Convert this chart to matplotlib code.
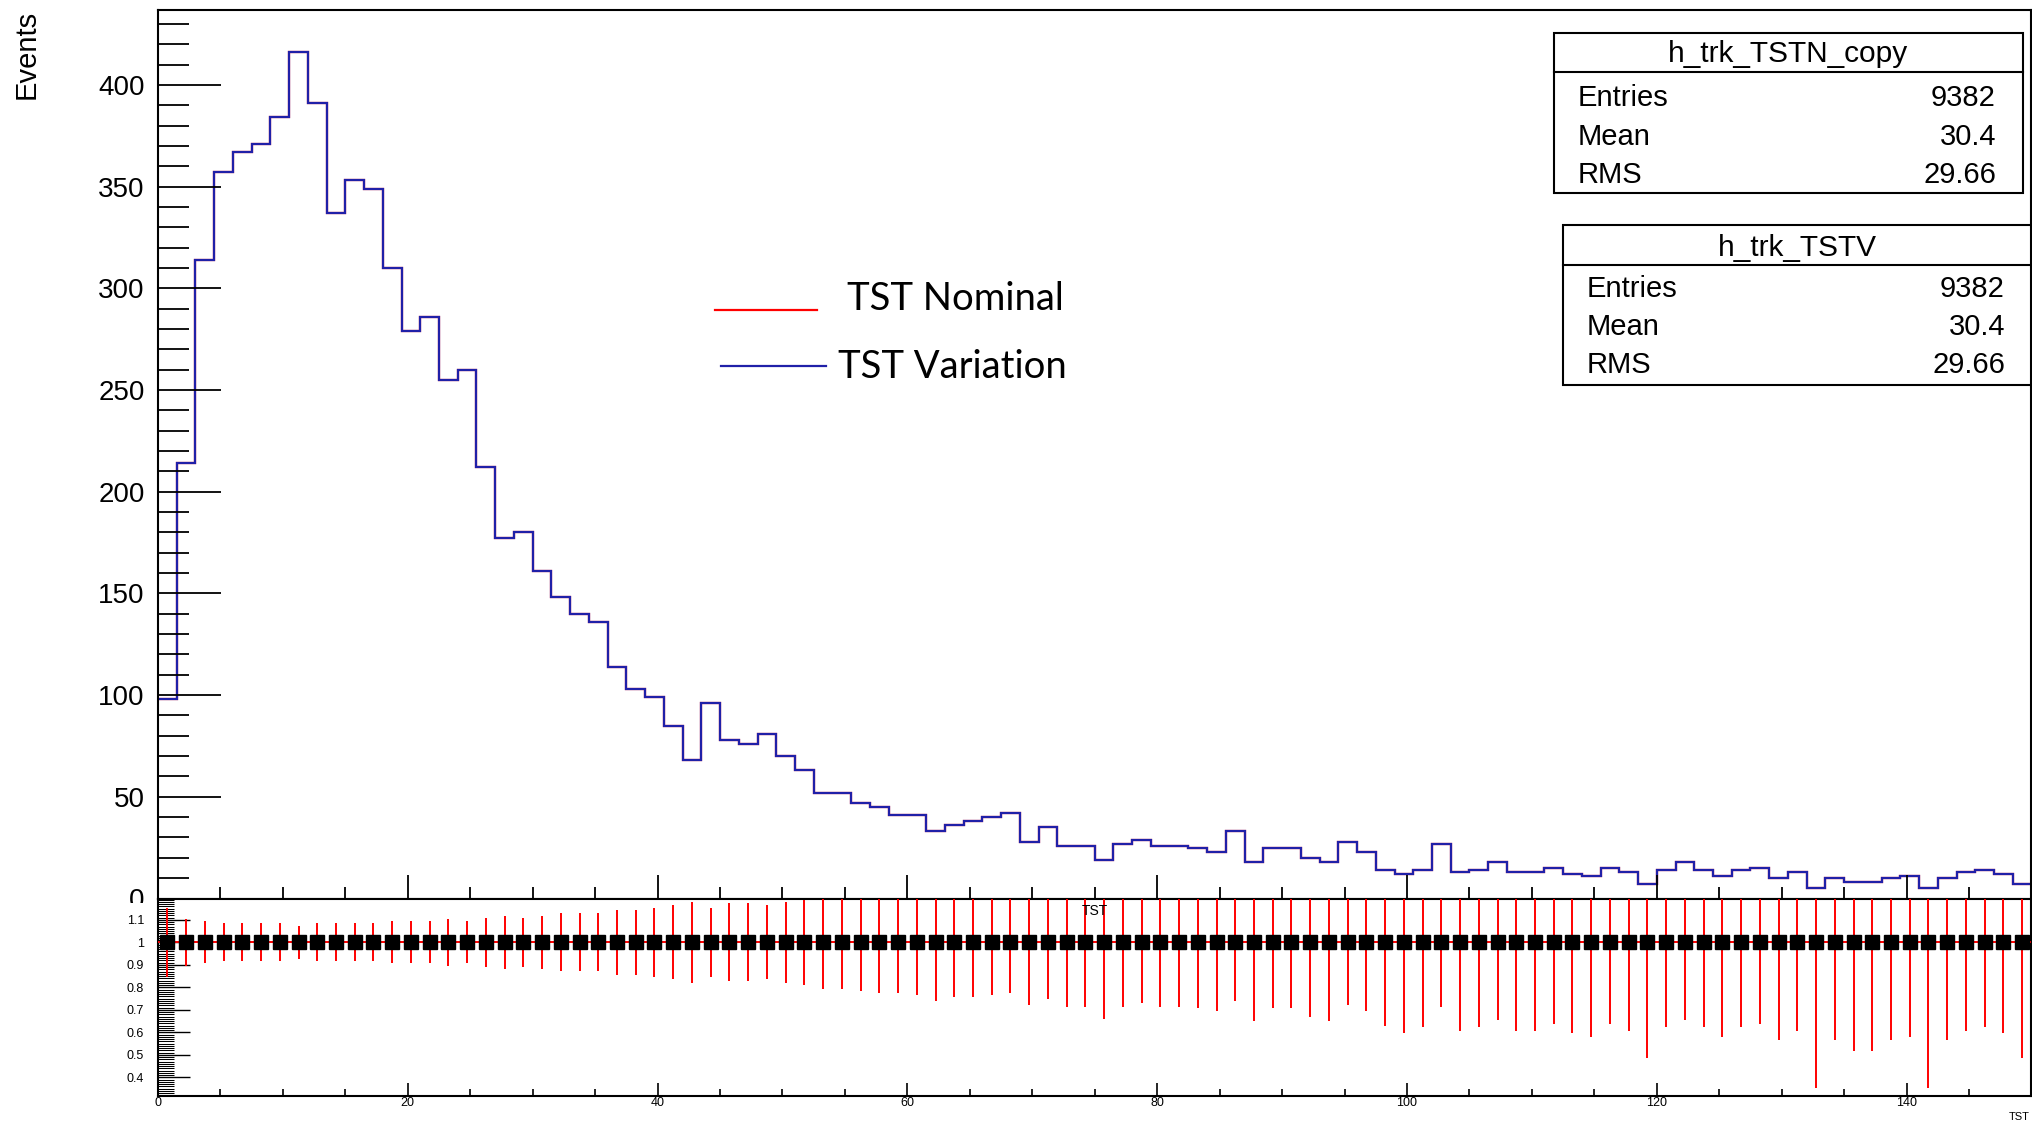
"""TST nominal vs. variation histogram with a ratio panel underneath."""

import matplotlib

matplotlib.use("Agg")
import matplotlib.pyplot as plt
import numpy as np
from matplotlib.lines import Line2D
from matplotlib.patches import Rectangle
from matplotlib.ticker import FuncFormatter, MultipleLocator

W, H = 2033, 1128
X_MIN, X_MAX, N_BINS = 0.0, 150.0, 100

# bin contents of h_trk_TSTV (read bin by bin off the picture)
variation_counts = [
    98, 214, 314, 357, 367, 371, 384, 416, 391, 337,
    353, 349, 310, 279, 286, 255, 260, 212, 177, 180,
    161, 148, 140, 136, 114, 103, 99, 85, 68, 96,
    78, 76, 81, 70, 63, 52, 52, 47, 45, 41,
    41, 33, 36, 38, 40, 42, 28, 35, 26, 26,
    19, 27, 29, 26, 26, 25, 23, 33, 18, 25,
    25, 20, 18, 28, 23, 14, 12, 14, 27, 13,
    14, 18, 13, 13, 15, 12, 11, 15, 13, 7,
    14, 18, 14, 11, 14, 15, 10, 13, 5, 10,
    8, 8, 10, 11, 5, 10, 13, 14, 12, 7,
]
# the nominal histogram sits exactly under the variation one
nominal_counts = list(variation_counts)

# half-length of the red error bars in the ratio panel
ratio_err = [
    0.152, 0.103, 0.093, 0.084, 0.084, 0.084, 0.084, 0.073, 0.084, 0.084,
    0.084, 0.084, 0.093, 0.093, 0.093, 0.103, 0.093, 0.109, 0.118, 0.109,
    0.118, 0.129, 0.129, 0.129, 0.145, 0.145, 0.154, 0.164, 0.181, 0.154,
    0.173, 0.173, 0.164, 0.181, 0.190, 0.208, 0.208, 0.217, 0.226, 0.226,
    0.235, 0.260, 0.242, 0.242, 0.235, 0.224, 0.278, 0.251, 0.286, 0.286,
    0.339, 0.286, 0.269, 0.286, 0.286, 0.294, 0.303, 0.260, 0.348, 0.294,
    0.294, 0.330, 0.348, 0.277, 0.303, 0.374, 0.401, 0.375, 0.286, 0.392,
    0.375, 0.347, 0.392, 0.392, 0.365, 0.401, 0.419, 0.365, 0.392, 0.515,
    0.375, 0.347, 0.375, 0.419, 0.375, 0.365, 0.436, 0.392, 0.649, 0.436,
    0.481, 0.481, 0.436, 0.419, 0.649, 0.436, 0.392, 0.375, 0.401, 0.515,
]

legend_labels = ["TST Nominal", "TST Variation"]
stat_titles = ["h_trk_TSTN_copy", "h_trk_TSTV"]
stat_names = ["Entries", "Mean", "RMS"]
stat_values = [["9382", "30.4", "29.66"], ["9382", "30.4", "29.66"]]

NOMINAL_COLOR = "#ff0000"
VARIATION_COLOR = "#2020a8"


def fx(px):
    return px / W


def fy(py):
    return 1 - py / H


plt.rcParams["font.family"] = ["Liberation Sans", "DejaVu Sans"]

fig = plt.figure(figsize=(W / 100, H / 100), dpi=100)
main_ax = fig.add_axes([fx(158), fy(898.5), fx(2031.5) - fx(158), fy(10) - fy(898.5)])
ratio_ax = fig.add_axes([fx(158), fy(1096), fx(2031.5) - fx(158), fy(898.5) - fy(1096)])
main_ax.set_zorder(0)
ratio_ax.set_zorder(1)

edges = np.linspace(X_MIN, X_MAX, N_BINS + 1)
centers = 0.5 * (edges[:-1] + edges[1:])

# --- upper pad -----------------------------------------------------------
main_ax.stairs(nominal_counts, edges, baseline=None, color=NOMINAL_COLOR, linewidth=1.6)
main_ax.stairs(variation_counts, edges, baseline=None, color=VARIATION_COLOR, linewidth=1.6)
main_ax.set_xlim(X_MIN, X_MAX)
main_ax.set_ylim(0, 1.05 * max(variation_counts))
main_ax.yaxis.set_major_locator(MultipleLocator(50))
main_ax.yaxis.set_minor_locator(MultipleLocator(10))
main_ax.xaxis.set_major_locator(MultipleLocator(20))
main_ax.xaxis.set_minor_locator(MultipleLocator(5))
main_ax.tick_params(axis="y", which="major", direction="in", length=45, width=1.3, pad=9.5, labelsize=20)
main_ax.tick_params(axis="y", which="minor", direction="in", length=22, width=1.3)
main_ax.tick_params(axis="x", which="major", direction="in", length=17, width=1.3, labelbottom=False)
main_ax.tick_params(axis="x", which="minor", direction="in", length=8.6, width=1.3)
for spine in main_ax.spines.values():
    spine.set_linewidth(1.5)

fig.text(fx(27), fy(10), "Events", rotation=90, ha="center", va="top", fontsize=21)

# the lower pad hides the bottom of the "0" label, like in ROOT
fig.add_artist(Rectangle((0, 0), 1, fy(903), transform=fig.transFigure,
                         facecolor="white", edgecolor="none", zorder=0.5))

# --- legend --------------------------------------------------------------
legend_rows = [
    (NOMINAL_COLOR, 715, 817, 309.5, 847, 310.5),
    (VARIATION_COLOR, 721, 826, 366, 838, 378.5),
]
for label, (color, lx0, lx1, ly, tx, ty) in zip(legend_labels, legend_rows):
    fig.add_artist(Line2D([fx(lx0), fx(lx1)], [fy(ly), fy(ly)], transform=fig.transFigure,
                          color=color, linewidth=1.6, zorder=4))
    fig.text(fx(tx), fy(ty), label, ha="left", va="baseline", fontsize=27.5,
             family=["Lato", "DejaVu Sans"], zorder=4)

# --- stat boxes ----------------------------------------------------------
box_layout = [
    # x0, x1, y0, y1, divider, title baseline, row baselines, text left, text right
    (1554, 2023, 33, 193, 71.5, 62, (106, 145, 183), 1578, 1996),
    (1563, 2031, 225, 385, 264.5, 256, (297, 335, 373), 1587, 2005),
]
for title, values, (x0, x1, y0, y1, ydiv, tb, rows, xl, xr) in zip(stat_titles, stat_values, box_layout):
    fig.add_artist(Rectangle((fx(x0), fy(y1)), fx(x1) - fx(x0), fy(y0) - fy(y1),
                             transform=fig.transFigure, facecolor="white",
                             edgecolor="black", linewidth=1.5, zorder=5))
    fig.add_artist(Line2D([fx(x0), fx(x1)], [fy(ydiv), fy(ydiv)], transform=fig.transFigure,
                          color="black", linewidth=1.5, zorder=6))
    fig.text(fx((x0 + x1) / 2), fy(tb), title, ha="center", va="baseline", fontsize=21.5, zorder=6)
    for name, value, yb in zip(stat_names, values, rows):
        fig.text(fx(xl), fy(yb), name, ha="left", va="baseline", fontsize=21, zorder=6)
        fig.text(fx(xr), fy(yb), value, ha="right", va="baseline", fontsize=21, zorder=6)

# --- ratio pad -----------------------------------------------------------
ratio = np.array(nominal_counts, dtype=float) / np.array(variation_counts, dtype=float)
ratio_ax.errorbar(centers, ratio, xerr=0.5 * (edges[1] - edges[0]), yerr=ratio_err,
                  fmt="s", ms=10.5, mfc="black", mec="black", ecolor=NOMINAL_COLOR,
                  elinewidth=1.4, capsize=0, zorder=3)
ratio_ax.set_facecolor("white")
ratio_ax.set_xlim(X_MIN, X_MAX)
ratio_ax.set_ylim(0.317, 1.195)
ratio_ax.yaxis.set_major_locator(MultipleLocator(0.1))
ratio_ax.yaxis.set_minor_locator(MultipleLocator(0.01))
ratio_ax.yaxis.set_major_formatter(FuncFormatter(lambda v, _pos: f"{v:g}"))
ratio_ax.xaxis.set_major_locator(MultipleLocator(20))
ratio_ax.xaxis.set_minor_locator(MultipleLocator(5))
ratio_ax.tick_params(axis="y", which="major", direction="in", length=23, width=1.0, pad=10, labelsize=9)
ratio_ax.tick_params(axis="y", which="minor", direction="in", length=11.5, width=0.75)
ratio_ax.tick_params(axis="x", which="major", direction="in", length=9.4, width=1.2, pad=1, labelsize=9)
ratio_ax.tick_params(axis="x", which="minor", direction="in", length=5, width=1.2)
for spine in ratio_ax.spines.values():
    spine.set_linewidth(1.5)
ratio_ax.text(0.5, 0.939, "TST", transform=ratio_ax.transAxes, ha="center", va="center", fontsize=10)
fig.text(fx(2030), fy(1117), "TST", ha="right", va="center", fontsize=8)

fig.savefig("out.png", dpi=100)
plt.close(fig)
